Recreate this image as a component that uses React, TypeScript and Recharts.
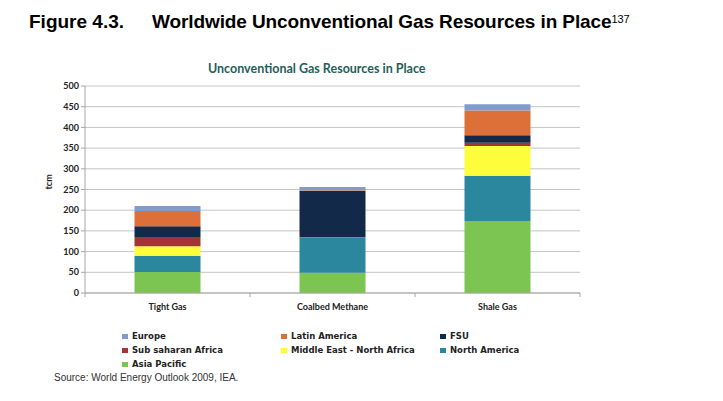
import React from "react";
import { BarChart, Bar, XAxis, YAxis, CartesianGrid } from "recharts";

const categories = ["Tight Gas", "Coalbed Methane", "Shale Gas"];
const asiaPacific = [51, 49, 174];
const northAmerica = [39, 85, 109];
const middleEast = [23, 0, 72];
const subSaharan = [22, 1, 8];
const fsu = [26, 112, 18];
const latinAmerica = [37, 1, 60];
const europe = [12, 8, 15];
const yTicks = [0, 50, 100, 150, 200, 250, 300, 350, 400, 450, 500];

// stacking order, bottom to top
const series = [
  { key: "ap", name: "Asia Pacific", values: asiaPacific, color: "#7dc553" },
  { key: "na", name: "North America", values: northAmerica, color: "#2b879d" },
  { key: "me", name: "Middle East - North Africa", values: middleEast, color: "#fdfd3c" },
  { key: "ssa", name: "Sub saharan Africa", values: subSaharan, color: "#a23436" },
  { key: "fsu", name: "FSU", values: fsu, color: "#13294a" },
  { key: "la", name: "Latin America", values: latinAmerica, color: "#dd7038" },
  { key: "eu", name: "Europe", values: europe, color: "#829cc9" },
];

// legend reads row by row, top of stack first
const legendOrder = ["eu", "la", "fsu", "ssa", "me", "na", "ap"];

const data = categories.map((c, i) => {
  const row: Record<string, string | number> = { name: c };
  series.forEach((s) => (row[s.key] = s.values[i]));
  return row;
});

const axisFont = "'Lato', 'Liberation Sans', sans-serif";

function CategoryTick(props: any) {
  const { x, y, payload, index } = props;
  const half = 82.5;
  return (
    <g>
      <line x1={x - half} x2={x - half} y1={y - 8} y2={y - 4} stroke="#a6a6a6" />
      {index === categories.length - 1 && (
        <line x1={x + half} x2={x + half} y1={y - 8} y2={y - 4} stroke="#a6a6a6" />
      )}
      <text x={x} y={y + 9} textAnchor="middle" fontSize={9} fontWeight={700} fill="#222" fontFamily={axisFont}>
        {payload.value}
      </text>
    </g>
  );
}

export default function App() {
  return (
    <div style={{ position: "absolute", left: 0, top: 0, width: 723, height: 401, background: "#fff", fontFamily: "'Liberation Sans', Arial, sans-serif" }}>
      <div style={{ position: "absolute", left: 29, top: 11, fontSize: 19, fontWeight: 700, color: "#000", whiteSpace: "nowrap", lineHeight: "22px" }}>
        Figure 4.3.
      </div>
      <div style={{ position: "absolute", left: 152, top: 11, fontSize: 19, fontWeight: 700, color: "#000", whiteSpace: "nowrap", lineHeight: "22px", letterSpacing: -0.1 }}>
        Worldwide Unconventional Gas Resources in Place
        <sup style={{ fontSize: 11, fontWeight: 400, verticalAlign: "top", position: "relative", top: -3 }}>137</sup>
      </div>
      <div style={{ position: "absolute", left: 208, top: 62, fontSize: 12.5, fontWeight: 700, color: "#1f5e58", whiteSpace: "nowrap", fontFamily: axisFont, lineHeight: "14px" }}>
        Unconventional Gas Resources in Place
      </div>

      <div style={{ position: "absolute", left: 0, top: 0 }}>
        <BarChart width={723} height={401} data={data} margin={{ top: 86, right: 143, bottom: 78, left: 45 }} barCategoryGap="30%">
          <CartesianGrid horizontal vertical={false} stroke="#c4c4c4" />
          <XAxis dataKey="name" stroke="#a6a6a6" tickLine={false} tick={<CategoryTick />} interval={0} />
          <YAxis
            width={40}
            domain={[0, 500]}
            ticks={yTicks}
            interval={0}
            stroke="#a6a6a6"
            tickSize={4}
            tick={{ fontSize: 9, fontWeight: 700, fill: "#222", fontFamily: axisFont }}
            label={{ value: "tcm", angle: -90, position: "insideLeft", offset: 4, style: { fontSize: 9, fontWeight: 700, fill: "#222", fontFamily: axisFont } }}
          />
          {series.map((s) => (
            <Bar key={s.key} dataKey={s.key} name={s.name} stackId="gas" fill={s.color} isAnimationActive={false} />
          ))}
        </BarChart>
      </div>

      {legendOrder.map((k, i) => {
        const s = series.find((x) => x.key === k)!;
        const col = i % 3;
        const row = Math.floor(i / 3);
        return (
          <div key={k} style={{ position: "absolute", left: [122, 281, 440][col], top: 330 + row * 14, display: "flex", alignItems: "center", whiteSpace: "nowrap", fontFamily: "'DejaVu Sans', sans-serif", fontSize: 8.5, fontWeight: 700, color: "#222", lineHeight: "12px" }}>
            <span style={{ display: "inline-block", width: 6, height: 5, background: s.color, marginRight: 4 }} />
            {s.name}
          </div>
        );
      })}

      <div style={{ position: "absolute", left: 54, top: 372, fontSize: 10, color: "#333", whiteSpace: "nowrap", lineHeight: "12px" }}>
        Source: World Energy Outlook 2009, IEA.
      </div>
    </div>
  );
}
